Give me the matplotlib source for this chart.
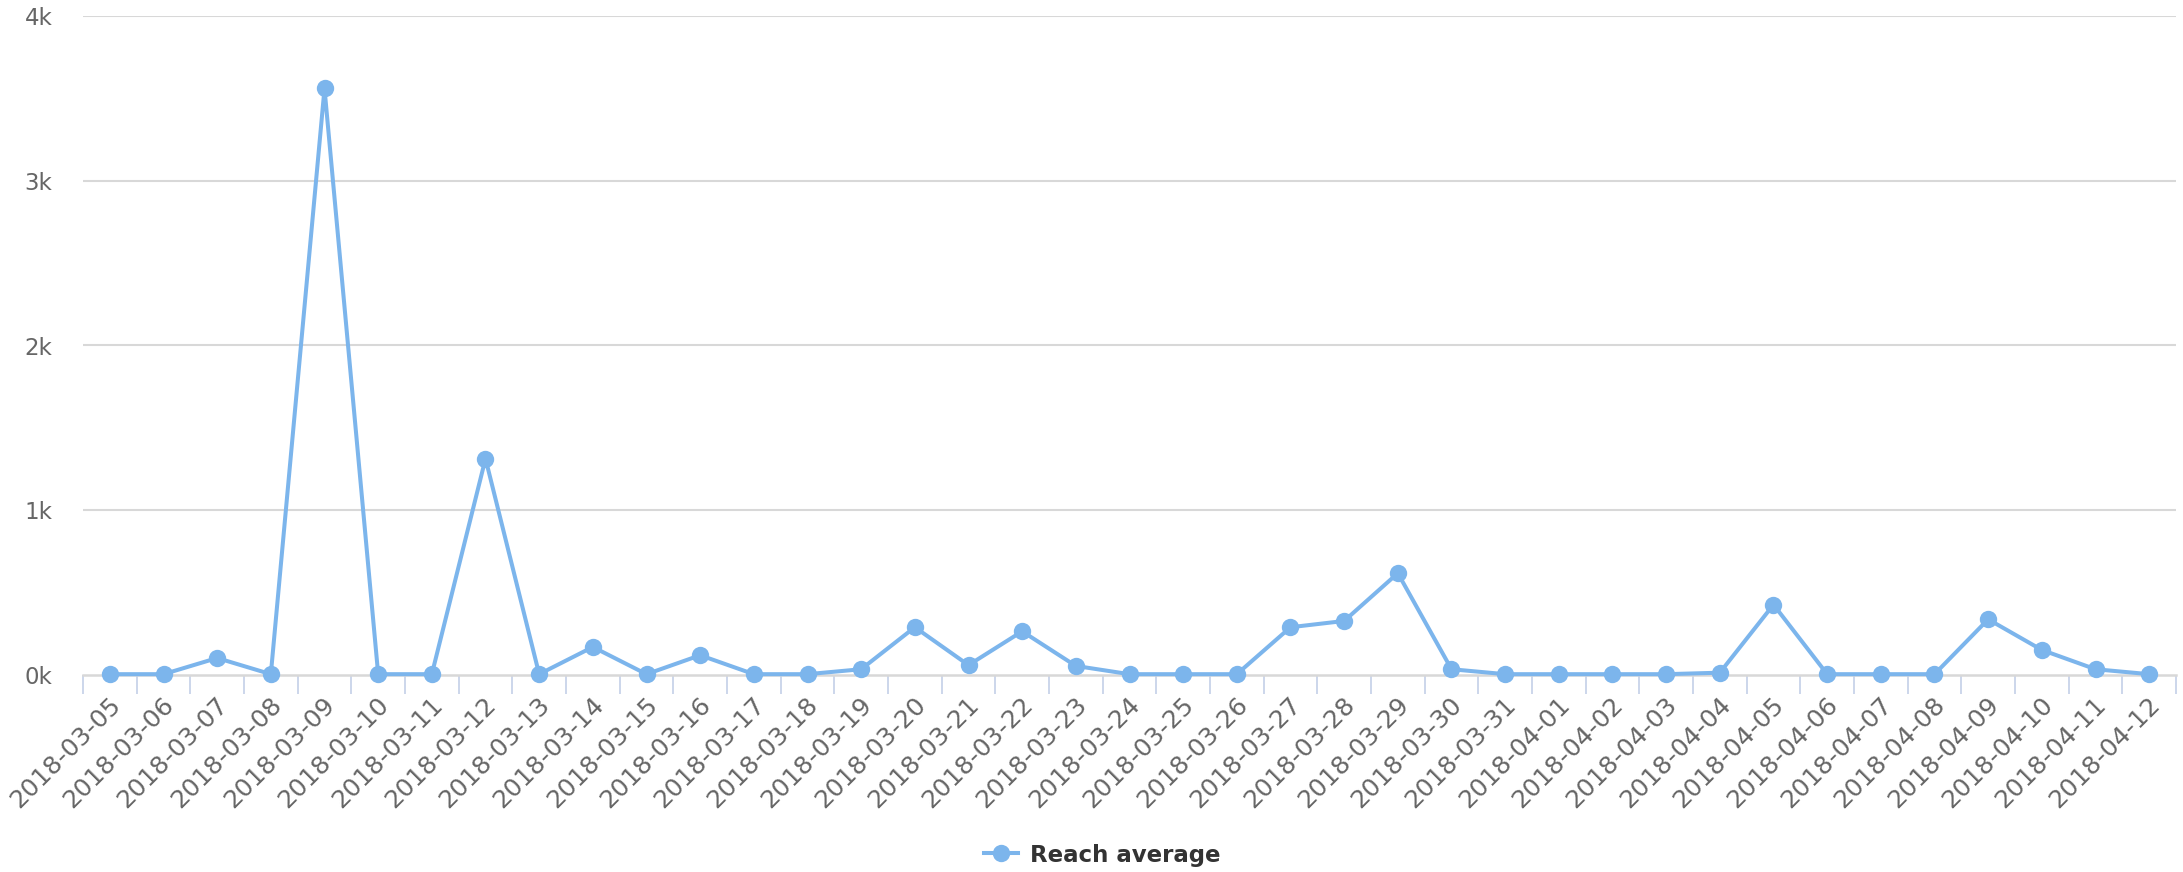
import matplotlib
matplotlib.use("Agg")
import matplotlib.pyplot as plt
from matplotlib.ticker import FixedLocator, FuncFormatter
import matplotlib.transforms as mtransforms

dates = ["2018-03-05", "2018-03-06", "2018-03-07", "2018-03-08", "2018-03-09",
         "2018-03-10", "2018-03-11", "2018-03-12", "2018-03-13", "2018-03-14",
         "2018-03-15", "2018-03-16", "2018-03-17", "2018-03-18", "2018-03-19",
         "2018-03-20", "2018-03-21", "2018-03-22", "2018-03-23", "2018-03-24",
         "2018-03-25", "2018-03-26", "2018-03-27", "2018-03-28", "2018-03-29",
         "2018-03-30", "2018-03-31", "2018-04-01", "2018-04-02", "2018-04-03",
         "2018-04-04", "2018-04-05", "2018-04-06", "2018-04-07", "2018-04-08",
         "2018-04-09", "2018-04-10", "2018-04-11", "2018-04-12"]
reach_average = [5, 5, 103, 5, 3560, 5, 5, 1313, 5, 170, 5, 120, 5, 5, 35,
                 290, 60, 265, 55, 5, 5, 5, 290, 328, 618, 35, 5, 5, 5, 5,
                 14, 427, 5, 5, 5, 338, 152, 35, 5]
y_ticks = [0, 1000, 2000, 3000, 4000]

W, H, DPI = 2183, 872, 100
fig = plt.figure(figsize=(W / DPI, H / DPI), dpi=DPI)
left, right, top, bottom = 83, 2176, 16, 675
ax = fig.add_axes([left / W, 1 - bottom / H, (right - left) / W, (bottom - top) / H])

color = "#7cb5ec"
x = list(range(len(dates)))
line, = ax.plot(x, reach_average, color=color, lw=2.9, marker="o", ms=12.5,
                markeredgewidth=0, zorder=3, clip_on=False, label="Reach average")

ax.set_xlim(-0.5, len(dates) - 0.5)
ax.set_ylim(0, 4000)

ax.set_yticks(y_ticks)
ax.yaxis.set_major_formatter(FuncFormatter(lambda v, p: f"{int(v/1000)}k"))
ax.tick_params(axis="y", length=0, pad=22, labelsize=16.5, labelcolor="#666666")
for yt in y_ticks[1:]:
    ax.axhline(yt, color="#d8d8d8", lw=1.5, zorder=1)

for s in ["top", "right", "left"]:
    ax.spines[s].set_visible(False)
ax.spines["bottom"].set_color("#d8d8d8")
ax.spines["bottom"].set_linewidth(1.8)

ax.set_xticks(x)
ax.set_xticklabels(dates, rotation=45, ha="right", va="center",
                   rotation_mode="anchor", fontsize=18, color="#666666")
ax.xaxis.set_minor_locator(FixedLocator([i - 0.5 for i in range(len(dates) + 1)]))
ax.tick_params(axis="x", which="major", length=0, pad=19)
ax.tick_params(axis="x", which="minor", length=14, width=1.4, color="#ccd6eb")
offset = mtransforms.ScaledTranslation(7 / DPI, 0, fig.dpi_scale_trans)
for lbl in ax.get_xticklabels():
    lbl.set_transform(lbl.get_transform() + offset)

leg = fig.legend(handles=[line], loc="center", bbox_to_anchor=(1102 / W, 1 - 855 / H),
                 frameon=False, prop={"weight": "bold", "size": 16.5},
                 handlelength=1.5, handletextpad=0.5, markerscale=1.0)
for t in leg.get_texts():
    t.set_color("#333333")

fig.savefig("out.png", dpi=DPI)
